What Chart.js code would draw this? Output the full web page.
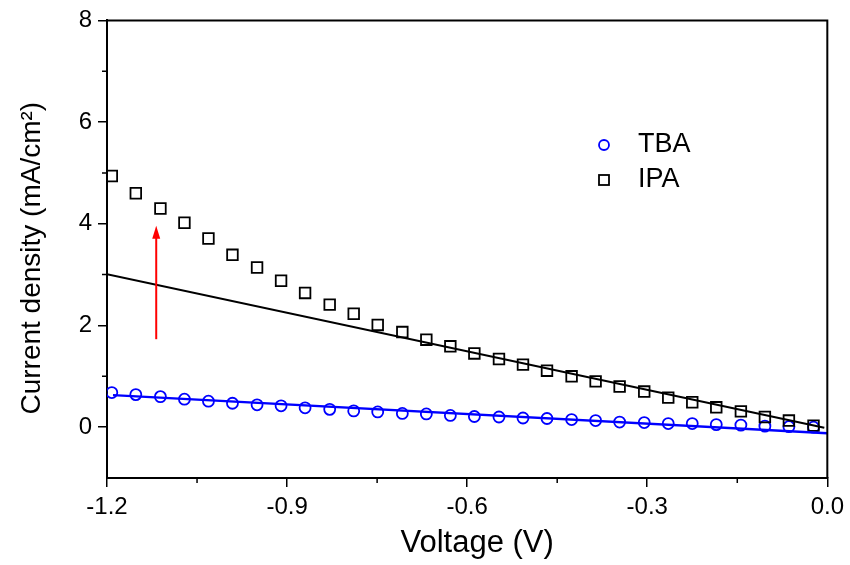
<!DOCTYPE html>
<html>
<head>
<meta charset="utf-8">
<script src="https://cdn.jsdelivr.net/npm/chart.js@4.4.0/dist/chart.umd.min.js"></script>
<style>
  html, body { margin: 0; padding: 0; background: #ffffff; }
  #wrap { width: 850px; height: 565px; }
</style>
</head>
<body>
<div id="wrap"><canvas id="jv-chart" width="850" height="565"></canvas></div>
<script>
// measured points (V vs mA/cm2)
const voltage = [-1.192, -1.152, -1.111, -1.071, -1.031, -0.991, -0.950, -0.910, -0.870, -0.829,
                 -0.789, -0.749, -0.708, -0.668, -0.628, -0.588, -0.547, -0.507, -0.467, -0.426,
                 -0.386, -0.346, -0.305, -0.265, -0.225, -0.185, -0.144, -0.104, -0.064, -0.023];
const ipaDensity = [4.94, 4.60, 4.30, 4.02, 3.71, 3.39, 3.14, 2.88, 2.64, 2.41,
                    2.23, 2.01, 1.87, 1.72, 1.59, 1.45, 1.34, 1.23, 1.11, 1.00,
                    0.90, 0.80, 0.70, 0.58, 0.49, 0.39, 0.31, 0.20, 0.13, 0.03];
const tbaDensity = [0.68, 0.64, 0.60, 0.55, 0.51, 0.47, 0.44, 0.42, 0.38, 0.35,
                    0.32, 0.30, 0.27, 0.26, 0.23, 0.21, 0.20, 0.18, 0.17, 0.15,
                    0.13, 0.10, 0.09, 0.07, 0.07, 0.05, 0.04, 0.02, 0.01, 0.00];

// linear fits
const ipaFitV = [-1.2, -0.005];
const ipaFitJ = [3.01, -0.01];
const tbaFitV = [-1.19, 0.0];
const tbaFitJ = [0.63, -0.12];

// axes
const xTicks = [-1.2, -0.9, -0.6, -0.3, 0.0];
const xTickLabels = ['-1.2', '-0.9', '-0.6', '-0.3', '0.0'];
const xMinorTicks = [-1.05, -0.75, -0.45, -0.15];
const yTicks = [0, 2, 4, 6, 8];
const yTickLabels = ['0', '2', '4', '6', '8'];
const yMinorTicks = [1, 3, 5, 7];
const xTitle = 'Voltage (V)';
const yTitle = 'Current density (mA/cm²)';

// red arrow (voltage, from, to)
const arrowV = -1.118;
const arrowFrom = 1.73;
const arrowTo = 3.96;

const seriesLabels = ['TBA', 'IPA'];

const FONT = "'Liberation Sans', Arial, sans-serif";
Chart.defaults.font.family = FONT;
Chart.defaults.color = '#000000';

const extrasPlugin = {
  id: 'extras',
  afterDraw(chart) {
    const ctx = chart.ctx;
    const a = chart.chartArea;
    const x = chart.scales.x;
    const y = chart.scales.y;
    ctx.save();

    // top + right frame
    ctx.strokeStyle = '#000000';
    ctx.lineWidth = 2;
    ctx.beginPath();
    ctx.moveTo(a.left, a.top);
    ctx.lineTo(a.right, a.top);
    ctx.lineTo(a.right, a.bottom);
    ctx.stroke();

    // minor ticks
    ctx.lineWidth = 1.5;
    ctx.beginPath();
    xMinorTicks.forEach(v => {
      const px = x.getPixelForValue(v);
      ctx.moveTo(px, a.bottom);
      ctx.lineTo(px, a.bottom + 5);
    });
    yMinorTicks.forEach(v => {
      const py = y.getPixelForValue(v);
      ctx.moveTo(a.left, py);
      ctx.lineTo(a.left - 5, py);
    });
    ctx.stroke();

    // axis titles (placed a bit off-centre like the original)
    ctx.fillStyle = '#000000';
    ctx.textAlign = 'center';
    ctx.textBaseline = 'middle';
    ctx.font = '31px ' + FONT;
    ctx.fillText(xTitle, (a.left + a.right) / 2 + 10, 543);
    ctx.save();
    ctx.translate(32, (a.top + a.bottom) / 2 + 9);
    ctx.rotate(-Math.PI / 2);
    ctx.font = '28px ' + FONT;
    ctx.fillText(yTitle, 0, 0);
    ctx.restore();

    // arrow
    const ax = x.getPixelForValue(arrowV);
    const y0 = y.getPixelForValue(arrowFrom);
    const y1 = y.getPixelForValue(arrowTo);
    ctx.strokeStyle = '#ff0000';
    ctx.fillStyle = '#ff0000';
    ctx.lineWidth = 2;
    ctx.beginPath();
    ctx.moveTo(ax, y0);
    ctx.lineTo(ax, y1 + 10);
    ctx.stroke();
    ctx.beginPath();
    ctx.moveTo(ax, y1);
    ctx.lineTo(ax - 4, y1 + 13);
    ctx.lineTo(ax + 4, y1 + 13);
    ctx.closePath();
    ctx.fill();

    // legend
    const lx = 604, ly = 145, gap = 35, tx = 638;
    ctx.lineWidth = 1.8;
    ctx.strokeStyle = '#0000ff';
    ctx.beginPath();
    ctx.arc(lx, ly, 5, 0, Math.PI * 2);
    ctx.stroke();
    ctx.strokeStyle = '#000000';
    ctx.strokeRect(lx - 5, ly + gap - 5, 10, 10);
    ctx.fillStyle = '#000000';
    ctx.font = '27px ' + FONT;
    ctx.textBaseline = 'middle';
    ctx.textAlign = 'left';
    ctx.fillText(seriesLabels[0], tx, ly);
    ctx.fillText(seriesLabels[1], tx, ly + gap);

    ctx.restore();
  }
};

const ctx = document.getElementById('jv-chart').getContext('2d');
new Chart(ctx, {
  type: 'scatter',
  data: {
    datasets: [
      {
        label: 'IPA fit',
        data: ipaFitV.map((v, i) => ({ x: v, y: ipaFitJ[i] })),
        showLine: true,
        borderColor: '#000000',
        borderWidth: 2,
        pointRadius: 0
      },
      {
        label: 'TBA fit',
        data: tbaFitV.map((v, i) => ({ x: v, y: tbaFitJ[i] })),
        showLine: true,
        borderColor: '#0000ff',
        borderWidth: 2.5,
        pointRadius: 0
      },
      {
        label: seriesLabels[1],
        data: voltage.map((v, i) => ({ x: v, y: ipaDensity[i] })),
        pointStyle: 'rect',
        pointRadius: 7.5,
        borderColor: '#000000',
        backgroundColor: 'rgba(0,0,0,0)',
        pointBorderWidth: 1.8
      },
      {
        label: seriesLabels[0],
        data: voltage.map((v, i) => ({ x: v, y: tbaDensity[i] })),
        pointStyle: 'circle',
        pointRadius: 5.5,
        borderColor: '#0000ff',
        backgroundColor: 'rgba(0,0,0,0)',
        pointBorderWidth: 1.8
      }
    ]
  },
  options: {
    responsive: false,
    animation: false,
    layout: { padding: { top: 19, right: 20, left: 0, bottom: 0 } },
    plugins: {
      legend: { display: false },
      tooltip: { enabled: false }
    },
    scales: {
      x: {
        type: 'linear',
        min: -1.2,
        max: 0,
        afterBuildTicks: s => { s.ticks = xTicks.map(v => ({ value: v })); },
        afterFit: s => { s.height = 87; },
        border: { color: '#000000', width: 2 },
        grid: { drawOnChartArea: false, tickLength: 9, color: '#000000', lineWidth: 1.5 },
        ticks: {
          padding: 6,
          font: { size: 24 },
          callback: (v, i) => xTickLabels[i]
        }
      },
      y: {
        type: 'linear',
        min: -1,
        max: 8,
        afterBuildTicks: s => { s.ticks = yTicks.map(v => ({ value: v })); },
        afterFit: s => { s.width = 107; },
        border: { color: '#000000', width: 2 },
        grid: { drawOnChartArea: false, tickLength: 9, color: '#000000', lineWidth: 1.5 },
        ticks: {
          padding: 6,
          font: { size: 24 },
          callback: (v, i) => yTickLabels[i]
        }
      }
    }
  },
  plugins: [extrasPlugin]
});
</script>
</body>
</html>
